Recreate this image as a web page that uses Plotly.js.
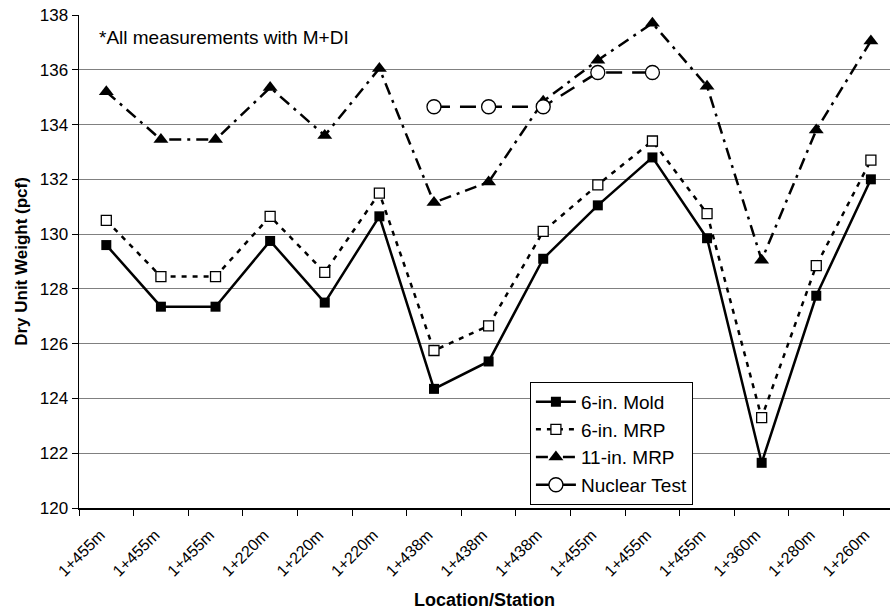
<!DOCTYPE html>
<html>
<head>
<meta charset="utf-8">
<script src="https://cdn.plot.ly/plotly-3.0.1.min.js"></script>
<style>html,body{margin:0;padding:0;background:#fff;}#chart{width:890px;height:616px;}</style>
</head>
<body>
<div id="chart"></div>
<script>
// Data
var stations = ["1+455m","1+455m","1+455m","1+220m","1+220m","1+220m","1+438m","1+438m","1+438m","1+455m","1+455m","1+455m","1+360m","1+280m","1+260m"];
var mold6 = [129.6,127.35,127.35,129.75,127.5,130.65,124.35,125.35,129.1,131.05,132.8,129.85,121.65,127.75,132.0];
var mrp6 = [130.5,128.45,128.45,130.65,128.6,131.5,125.75,126.65,130.1,131.8,133.4,130.75,123.3,128.85,132.7];
var mrp11 = [135.2,133.45,133.45,135.35,133.6,136.05,131.15,131.9,134.85,136.35,137.7,135.4,129.05,133.8,137.05];
var nuclear = [null,null,null,null,null,null,134.65,134.65,134.65,135.9,135.9,null,null,null,null];
var yTicks = [120,122,124,126,128,130,132,134,136,138];

var idx = stations.map(function(_, i){ return i; });
var FONT = "Liberation Sans, Arial, sans-serif";

var traces = [
  {x: idx, y: mold6, name: "6-in. Mold", type: "scatter", mode: "lines+markers",
   line: {color: "#000", width: 2.5},
   marker: {symbol: "square", size: 10, color: "#000"}},
  {x: idx, y: mrp6, name: "6-in. MRP", type: "scatter", mode: "lines+markers",
   line: {color: "#000", width: 2.5, dash: "5px,6px"},
   marker: {symbol: "square", size: 10, color: "#fff", line: {color: "#000", width: 1.3}}},
  {x: idx, y: mrp11, name: "11-in. MRP", type: "scatter", mode: "lines+markers",
   line: {color: "#000", width: 2.5, dash: "12px,6px,3px,6px"},
   marker: {symbol: "triangle-up", size: 13, color: "#000"}},
  {x: idx, y: nuclear, name: "Nuclear Test", type: "scatter", mode: "lines+markers",
   connectgaps: false,
   line: {color: "#000", width: 2.5, dash: "16px,10px"},
   marker: {symbol: "circle", size: 14, color: "#fff", line: {color: "#000", width: 1.3}}}
];

var layout = {
  width: 890, height: 616,
  margin: {l: 79, r: 0, t: 15, b: 108},
  paper_bgcolor: "#fff", plot_bgcolor: "#fff",
  font: {family: FONT, color: "#000", size: 17},
  showlegend: true,
  legend: {
    x: 0.556, y: 0.256, xanchor: "left", yanchor: "top",
    bgcolor: "#fff", bordercolor: "#000", borderwidth: 1,
    font: {family: FONT, size: 19, color: "#000"},
    tracegroupgap: 0, itemwidth: 40
  },
  xaxis: {
    range: [-0.5, 14.35],
    tickmode: "array", tickvals: idx, ticktext: stations,
    tickangle: -45, ticks: "", showgrid: false, zeroline: false,
    ticklabelstandoff: 10, ticklabelshift: -6,
    tickfont: {family: FONT, size: 16, color: "#000"},
    showline: true, linecolor: "#000", linewidth: 1.5,
    minor: {tick0: 0.5, dtick: 1, ticks: "outside", ticklen: 6, tickcolor: "#000", tickwidth: 1, showgrid: false},
    title: {text: "<b>Location/Station</b>", font: {family: FONT, size: 18, color: "#000"}, standoff: 14},
    fixedrange: true
  },
  yaxis: {
    range: [120, 138], tickmode: "array", tickvals: yTicks,
    ticks: "outside", ticklen: 6, tickcolor: "#000",
    showgrid: true, gridcolor: "#808080", gridwidth: 1,
    zeroline: false, showline: true, linecolor: "#000", linewidth: 1.5,
    tickfont: {family: FONT, size: 17, color: "#000"},
    title: {text: "<b>Dry Unit Weight (pcf)</b>", font: {family: FONT, size: 17, color: "#000"}, standoff: 8},
    fixedrange: true
  },
  annotations: [{
    xref: "paper", yref: "paper", x: 0.022, y: 0.954, xanchor: "left", yanchor: "middle",
    text: "*All measurements with M+DI", showarrow: false,
    font: {family: FONT, size: 19, color: "#000"}
  }]
};

Plotly.newPlot("chart", traces, layout, {displayModeBar: false, staticPlot: true});
</script>
</body>
</html>
